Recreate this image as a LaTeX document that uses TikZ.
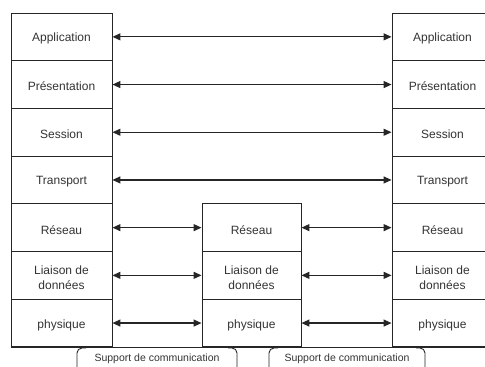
\documentclass[tikz,border=0pt]{standalone}
\usepackage{fontspec}
\setmainfont{Liberation Sans}
\usetikzlibrary{arrows.meta}

\begin{document}
\begin{tikzpicture}[x=1pt,y=-1pt,
  cell/.style={draw=black!85, line width=0.9pt, minimum height=47.7pt,
    inner sep=0pt, label={[celltext]center:{#1}}},
  celltext/.style={inner sep=0pt, align=center, text=black!80, yshift=-2pt,
    font=\fontsize{12}{15}\selectfont},
  sidecell/.style={cell={#1}, minimum width=101pt},
  midcell/.style={cell={#1}, minimum width=99pt},
  link/.style={{Triangle[length=8pt,width=7pt]}-{Triangle[length=8pt,width=7pt]},
    line width=1.2pt, draw=black!85},
  medium/.style={draw=black!85, line width=0.9pt, rounded corners=5pt},
  mediumtext/.style={inner sep=0pt, text=black!80, font=\fontsize{10.5}{12}\selectfont}]

\useasboundingbox (0,0) rectangle (485,367);
\clip (0,0) rectangle (485,367);

% end-system stacks (left and right)
\foreach \n/\t [count=\i from 0] in {a/Application, p/Présentation, s/Session,
    t/Transport, r/Réseau, l/{Liaison de\\données}, h/physique} {
  \node[sidecell=\t] (L\n) at (61.5, 13+47.7*\i+23.85) {};
  \node[sidecell=\t] (R\n) at (442.5, 13+47.7*\i+23.85) {};
}
% relay stack (middle)
\foreach \n/\t [count=\i from 4] in {r/Réseau, l/{Liaison de\\données}, h/physique} {
  \node[midcell=\t] (M\n) at (251.5, 13+47.7*\i+23.85) {};
}

% end-to-end peer links
\foreach \n in {a,p,s,t}
  \draw[link] (L\n.east) -- (R\n.west);

% hop-by-hop peer links
\foreach \n in {r,l,h} {
  \draw[link] (L\n.east) -- (M\n.west);
  \draw[link] (M\n.east) -- (R\n.west);
}

% common base line
\coordinate (baseend) at (485,347);
\draw[black!85, line width=0.9pt] (Lh.south west) -- (Lh.south west -| baseend);

% transmission media
\draw[medium] (77,372) -- (77,348) -- (86,348);
\draw[medium] (228,348) -- (237,348) -- (237,372);
\node[mediumtext] (sup1) at (157,359) {Support de communication};
\draw[medium] (269,372) -- (269,348) -- (278,348);
\draw[medium] (416,348) -- (425,348) -- (425,372);
\node[mediumtext] (sup2) at (347,359) {Support de communication};
\end{tikzpicture}
\end{document}
